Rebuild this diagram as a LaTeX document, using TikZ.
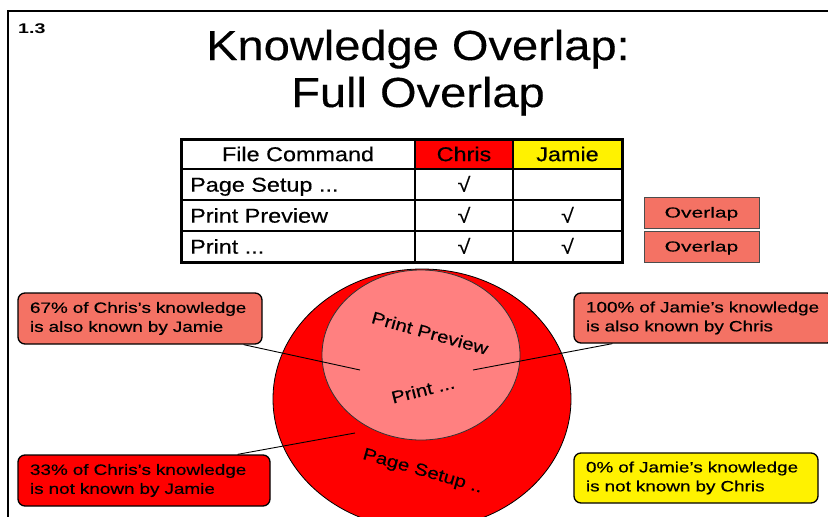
\documentclass[tikz,border=0pt]{standalone}
\usepackage{fontspec}
\setmainfont{Liberation Sans}
\newfontfamily\titlefont[FakeStretch=1.12,FakeBold=0.3]{Liberation Sans}
\newfontfamily\tablefont[FakeStretch=1.17,FakeBold=0.4]{Liberation Sans}
\newfontfamily\notefont[FakeStretch=1.26,FakeBold=0.4]{Liberation Sans}
\newfontfamily\tagfont[FakeStretch=1.45,FakeBold=0.3]{Liberation Sans}
\newfontfamily\arcfont[FakeStretch=1.2,FakeBold=0.3]{Liberation Sans}
\newfontfamily\numfont[FakeStretch=1.4]{Liberation Sans}
\definecolor{salmon}{RGB}{244,114,100}
\definecolor{pinkfill}{RGB}{255,128,128}
\begin{document}
\begin{tikzpicture}[x=1pt,y=-1pt,
  frame/.style={line width=2.2pt},
  gridline/.style={line width=1.2pt},
  tabtext/.style={inner sep=0pt, text height=14.3pt, text depth=0pt,
    font=\tablefont\fontsize{20}{22}\selectfont},
  tag/.style={draw=black!70, line width=0.8pt, fill=salmon, inner sep=0pt,
    minimum width=115pt, minimum height=31pt, text height=10pt, text depth=0pt,
    font=\tagfont\fontsize{14.5}{14.5}\selectfont},
  callout/.style={draw=black, line width=1.3pt, rounded corners=7pt,
    inner xsep=12pt, inner ysep=0pt, align=left,
    font=\notefont\fontsize{15}{19}\selectfont},
  leader/.style={line width=0.9pt},
  arclabel/.style={inner sep=0pt, text height=12pt, text depth=0pt,
    font=\arcfont\fontsize{17}{17}\selectfont}
]
\useasboundingbox (0,0) rectangle (828,517);
\clip (0,0) rectangle (828,517);

% page frame
\draw[frame] (8,540) -- (8,11) -- (850,11);
\node[anchor=base west, inner sep=0pt,
  font=\numfont\bfseries\fontsize{14}{14}\selectfont] (num) at (18,33) {1.3};

% title
\node[anchor=base, inner sep=0pt, font=\titlefont\fontsize{42}{47}\selectfont]
  (title1) at (418,60) {Knowledge Overlap:};
\node[anchor=base, inner sep=0pt, font=\titlefont\fontsize{42}{47}\selectfont]
  (title2) at (418,107) {Full Overlap};

% command table
\fill[red] (415,139) rectangle (513,169);
\fill[yellow] (513,139) rectangle (622,169);
\draw[gridline] (181,169) -- (622,169) (181,200) -- (622,200) (181,231) -- (622,231)
  (415,139) -- (415,262) (513,139) -- (513,262);
\draw[line width=3pt] (181,139) rectangle (622,262);
\node[tabtext] (hcmd) at (298,154) {File Command};
\node[tabtext] (hchris) at (464,154) {Chris};
\node[tabtext] (hjamie) at (567.5,154) {Jamie};
\node[tabtext, anchor=west] (rsetup) at (190,184.5) {Page Setup ...};
\node[tabtext, anchor=west] (rpreview) at (190,215.5) {Print Preview};
\node[tabtext, anchor=west] (rprint) at (190,246.5) {Print ...};
\node[tabtext] (k1) at (464,184.5) {√};
\node[tabtext] (k2) at (464,215.5) {√};
\node[tabtext] (k3) at (567.5,215.5) {√};
\node[tabtext] (k4) at (464,246.5) {√};
\node[tabtext] (k5) at (567.5,246.5) {√};

% overlap tags
\node[tag] (ov1) at (701.5,212.5) {Overlap};
\node[tag] (ov2) at (701.5,246.5) {Overlap};

% knowledge regions
\draw[fill=red, line width=0.8pt] (422,399) ellipse [x radius=149pt, y radius=130pt];
\draw[fill=pinkfill, line width=0.8pt, draw=black!80] (421,355) ellipse [x radius=99pt, y radius=85pt];
\node[arclabel, rotate=-15.5] (lpreview) at (430,333) {Print Preview};
\node[arclabel, rotate=14] (lprint) at (423,390) {Print ...};
\node[arclabel, rotate=-16] (lsetup) at (423,470) {Page Setup ..};

% callouts
\node[callout, fill=salmon, text width=220pt, minimum height=51pt] (c1) at (140,318.5)
  {67\% of Chris’s knowledge\\is also known by Jamie};
\node[callout, fill=salmon, text width=236pt, minimum height=50pt] (c2) at (704,318)
  {100\% of Jamie’s knowledge\\is also known by Chris};
\node[callout, fill=red, text width=228pt, minimum height=51pt] (c3) at (144,480.5)
  {33\% of Chris’s knowledge\\is not known by Jamie};
\node[callout, fill=yellow, text width=220pt, minimum height=50pt] (c4) at (696,478)
  {0\% of Jamie’s knowledge\\is not known by Chris};

% leaders into the regions
\coordinate (e1) at (360,370);
\coordinate (e2) at (473,370);
\coordinate (e3) at (355,433);
\draw[leader] ([xshift=-19pt]c1.south east) -- (e1);
\draw[leader] ([xshift=39pt]c2.south west) -- (e2);
\draw[leader] ([xshift=-33pt]c3.north east) -- (e3);
\end{tikzpicture}
\end{document}
